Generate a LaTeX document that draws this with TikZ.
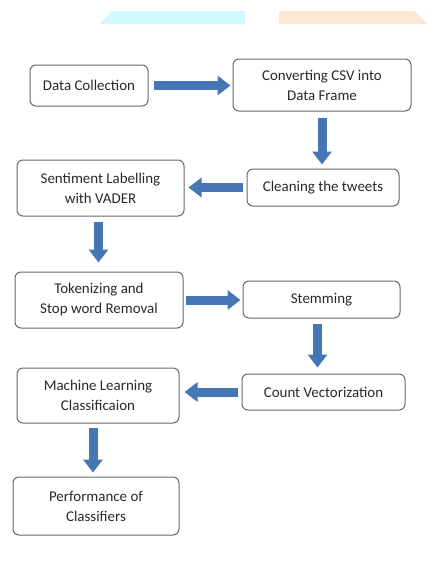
\documentclass[tikz,border=0pt]{standalone}
\usepackage{fontspec}
\setmainfont{Carlito}
\usetikzlibrary{arrows.meta}

\definecolor{arrowblue}{RGB}{70,118,182}
\definecolor{boxgray}{RGB}{105,105,105}
\definecolor{textgray}{RGB}{40,40,40}
\definecolor{barcyan}{RGB}{208,250,255}
\definecolor{barorange}{RGB}{255,232,210}

\tikzset{every picture/.style={line width=0.75pt}}
\tikzset{
  procbox/.style={draw=boxgray, rounded corners=4.5pt, align=center, text=textgray,
    font=\fontsize{11.2}{15}\selectfont, inner sep=0.75pt},
  flowarrow/.style={draw=arrowblue, line width=6.75pt,
    -{Triangle[width=14.25pt,length=9.75pt]}}
}

\begin{document}
\begin{tikzpicture}[x=0.75pt,y=0.75pt,yscale=-1,xscale=1]
\useasboundingbox (0,0) rectangle (433,565);

%Shape: top bars
\fill [barcyan] (100,24) -- (112,11) -- (245,11) -- (245,24) -- cycle ;
\fill [barorange] (279,11) -- (415,11) -- (427,24) -- (279,24) -- cycle ;

% Boxes
\node [procbox, minimum width=88.5pt, minimum height=30.75pt] (dc) at (89,85.5) {Data Collection};
\node [procbox, minimum width=133.5pt, minimum height=39pt] (csv) at (322,85) {Converting CSV into\\Data Frame};
\node [procbox, minimum width=114pt, minimum height=27.75pt] (clean) at (323,187.5) {Cleaning the tweets};
\node [procbox, minimum width=125.25pt, minimum height=42pt] (senti) at (100.5,188) {Sentiment Labelling\\with VADER};
\node [procbox, minimum width=126pt, minimum height=42pt] (token) at (99,300) {Tokenizing and\\Stop word Removal};
\node [procbox, minimum width=117.75pt, minimum height=27.75pt] (stem) at (321.5,299.5) {Stemming};
\node [procbox, minimum width=122.25pt, minimum height=27pt] (count) at (323.5,392) {Count Vectorization};
\node [procbox, minimum width=121.5pt, minimum height=41.25pt] (ml) at (98,395.5) {Machine Learning\\Classificaion};
\node [procbox, minimum width=124.5pt, minimum height=43.5pt] (perf) at (96,506) {Performance of\\Classifiers};

% Arrows
\draw [flowarrow, shorten <=3.75pt, shorten >=1.5pt] (dc.east) -- (dc.east -| csv.west) ;
\draw [flowarrow, shorten <=4.5pt, shorten >=3pt] (csv.south) -- (csv.south |- clean.north) ;
\draw [flowarrow, shorten <=3pt, shorten >=3pt] (clean.west) -- (clean.west -| senti.east) ;
\draw [flowarrow, shorten <=3.75pt, shorten >=6.75pt] ([xshift=-1.5pt]senti.south) -- ([xshift=-1.5pt]senti.south |- token.north) ;
\draw [flowarrow, shorten <=1.5pt, shorten >=1.5pt] (token.east) -- (token.east -| stem.west) ;
\draw [flowarrow, shorten <=3.75pt, shorten >=4.5pt] ([xshift=-3pt]stem.south) -- ([xshift=-3pt]stem.south |- count.north) ;
\draw [flowarrow, shorten <=3pt, shorten >=3.75pt] (count.west) -- (count.west -| ml.east) ;
\draw [flowarrow, shorten <=3pt, shorten >=3pt] ([xshift=-3.75pt]ml.south) -- ([xshift=-3.75pt]ml.south |- perf.north) ;

\end{tikzpicture}
\end{document}
